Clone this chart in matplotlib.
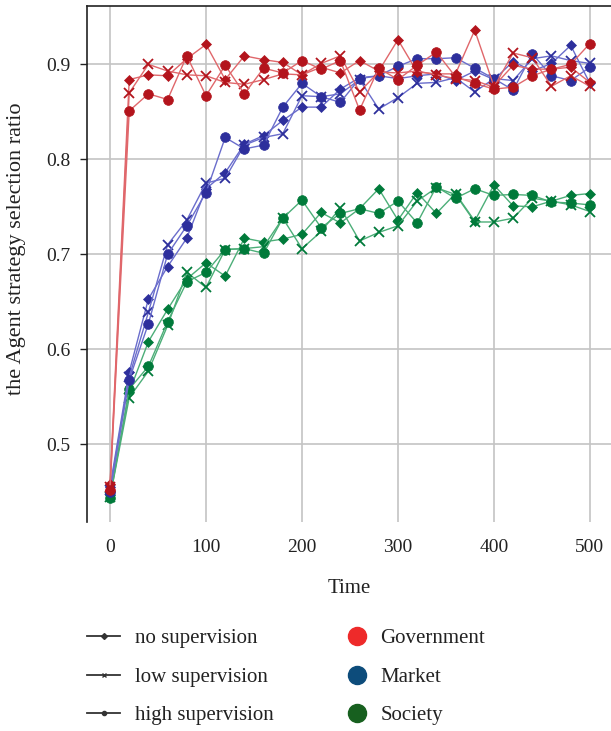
import matplotlib
matplotlib.use("Agg")
import matplotlib.pyplot as plt
from matplotlib.lines import Line2D

plt.rcParams['font.family'] = ['Liberation Serif', 'DejaVu Serif']

time = [0, 20, 40, 60, 80, 100, 120, 140, 160, 180, 200, 220, 240,
        260, 280, 300, 320, 340, 360, 380, 400, 420, 440, 460, 480, 500]

gov_no = [0.458, 0.884, 0.889, 0.888, 0.906, 0.921, 0.884, 0.909, 0.905, 0.902, 0.889, 0.897, 0.891,
          0.904, 0.893, 0.926, 0.892, 0.890, 0.890, 0.936, 0.877, 0.899, 0.895, 0.895, 0.897, 0.881]
gov_low = [0.455, 0.870, 0.900, 0.893, 0.889, 0.888, 0.881, 0.879, 0.884, 0.890, 0.889, 0.901, 0.909,
           0.871, 0.892, 0.891, 0.893, 0.889, 0.885, 0.883, 0.876, 0.912, 0.907, 0.877, 0.888, 0.877]
gov_high = [0.452, 0.851, 0.869, 0.863, 0.909, 0.867, 0.899, 0.869, 0.896, 0.891, 0.904, 0.895, 0.904,
            0.852, 0.896, 0.884, 0.899, 0.913, 0.887, 0.880, 0.874, 0.876, 0.888, 0.895, 0.900, 0.922]

mkt_no = [0.455, 0.576, 0.653, 0.687, 0.717, 0.769, 0.786, 0.816, 0.825, 0.841, 0.855, 0.855, 0.874,
          0.886, 0.888, 0.885, 0.888, 0.890, 0.883, 0.893, 0.884, 0.903, 0.893, 0.901, 0.920, 0.880]
mkt_low = [0.452, 0.571, 0.639, 0.710, 0.736, 0.775, 0.780, 0.815, 0.823, 0.827, 0.867, 0.866, 0.869,
           0.884, 0.853, 0.865, 0.880, 0.881, 0.886, 0.871, 0.885, 0.883, 0.906, 0.909, 0.904, 0.901]
mkt_high = [0.450, 0.568, 0.627, 0.700, 0.730, 0.765, 0.823, 0.811, 0.815, 0.855, 0.880, 0.866, 0.860,
            0.885, 0.888, 0.898, 0.906, 0.906, 0.907, 0.896, 0.885, 0.873, 0.911, 0.888, 0.883, 0.897]

soc_no = [0.446, 0.555, 0.608, 0.642, 0.674, 0.691, 0.677, 0.717, 0.713, 0.716, 0.721, 0.744, 0.733,
          0.748, 0.769, 0.736, 0.765, 0.743, 0.764, 0.735, 0.773, 0.751, 0.750, 0.756, 0.762, 0.764]
soc_low = [0.444, 0.549, 0.577, 0.625, 0.681, 0.665, 0.705, 0.706, 0.708, 0.738, 0.706, 0.724, 0.749,
           0.714, 0.723, 0.730, 0.756, 0.770, 0.763, 0.734, 0.734, 0.738, 0.759, 0.756, 0.752, 0.745]
soc_high = [0.443, 0.558, 0.582, 0.629, 0.671, 0.681, 0.705, 0.706, 0.701, 0.738, 0.757, 0.728, 0.743,
            0.748, 0.743, 0.756, 0.733, 0.771, 0.759, 0.769, 0.762, 0.763, 0.762, 0.755, 0.754, 0.752]

agents = ["Government", "Market", "Society"]
levels = ["no supervision", "low supervision", "high supervision"]
yticks = [0.5, 0.6, 0.7, 0.8, 0.9]
xticks = [0, 100, 200, 300, 400, 500]

series = {
    "Society": [soc_no, soc_low, soc_high],
    "Market": [mkt_no, mkt_low, mkt_high],
    "Government": [gov_no, gov_low, gov_high],
}
dark = {"Government": "#b3141c", "Market": "#2d2f9c", "Society": "#007a3a"}
light = {"Government": "#e0676b", "Market": "#6a6dcc", "Society": "#4cae78"}
legend_col = {"Government": "#ee2a2a", "Market": "#0d4c7b", "Society": "#17601f"}
markers = ["D", "x", "o"]
msizes = [5.5, 6.5, 7.0]

fig = plt.figure(figsize=(6.11, 7.31), dpi=100)
ax = fig.add_axes([87 / 611, 1 - 522 / 731, (611 - 87) / 611, (522 - 6) / 731])

for agent in ["Society", "Market", "Government"]:
    for vals, m, ms in zip(series[agent], markers, msizes):
        ax.plot(time, vals, color=light[agent], lw=1.0, marker=m, markersize=ms,
                markerfacecolor=dark[agent], markeredgecolor=dark[agent],
                markeredgewidth=1.3 if m == "x" else 0.5, zorder=3)

ax.set_xlim(-24, 522)
ax.set_ylim(0.418, 0.9615)
ax.set_xticks(xticks)
ax.set_yticks(yticks)
ax.set_yticklabels([f"{v:.1f}" for v in yticks])
ax.grid(True, color="#c4c4c4", lw=1.2, zorder=0)
ax.set_axisbelow(True)
for s in ["right", "bottom"]:
    ax.spines[s].set_visible(False)
for s in ["left", "top"]:
    ax.spines[s].set_linewidth(1.2)
    ax.spines[s].set_color("#222222")
ax.tick_params(axis="x", length=0, pad=12, labelsize=14, colors="#222222")
ax.tick_params(axis="y", length=5, width=1, pad=7, labelsize=14, colors="#222222")
ax.set_xlabel("Time", fontsize=15, color="#222222", labelpad=17)
ax.set_ylabel("the Agent strategy selection ratio", fontsize=16, color="#222222")
ax.yaxis.set_label_coords(-0.116, 0.53)

fs = 15
h1 = [Line2D([], [], color="#333333", lw=1.3, marker=m,
             markersize=3 if m != "x" else 3.5, markeredgewidth=1) for m in markers]
leg1 = fig.legend(h1, levels, frameon=False, loc="center left",
                  bbox_to_anchor=(87 / 611, 1 - 677 / 731), fontsize=fs,
                  handlelength=1.6, handletextpad=0.72, labelspacing=0.9,
                  borderpad=0, borderaxespad=0, labelcolor="#222222")
h2 = [Line2D([], [], color=legend_col[ag], lw=0, marker="o", markersize=13) for ag in agents]
leg2 = fig.legend(h2, agents, frameon=False, loc="center left",
                  bbox_to_anchor=(347 / 611, 1 - 677 / 731), fontsize=fs,
                  handlelength=1.0, handletextpad=0.6, labelspacing=0.9,
                  borderpad=0, borderaxespad=0, labelcolor="#222222")

fig.savefig("out.png", dpi=100)
